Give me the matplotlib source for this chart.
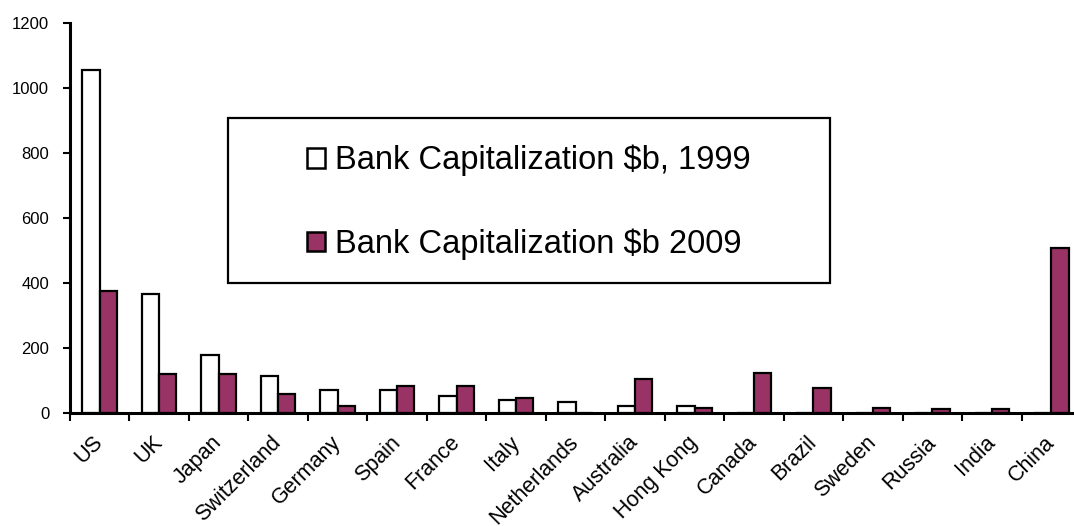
import matplotlib
matplotlib.use("Agg")
import matplotlib.pyplot as plt
from matplotlib.patches import Rectangle, Patch
import numpy as np

plt.rcParams['font.family'] = ['Liberation Sans', 'DejaVu Sans']

countries = ["US", "UK", "Japan", "Switzerland", "Germany", "Spain", "France", "Italy",
             "Netherlands", "Australia", "Hong Kong", "Canada", "Brazil", "Sweden",
             "Russia", "India", "China"]
cap_1999 = [1055, 365, 178, 113, 72, 70, 52, 40, 35, 22, 22, 0, 0, 0, 0, 0, 0]
cap_2009 = [376, 120, 120, 58, 22, 82, 82, 45, 0, 106, 16, 124, 77, 16, 11, 11, 507]
label_1999 = "Bank Capitalization $b, 1999"
label_2009 = "Bank Capitalization $b 2009"
y_ticks = [0, 200, 400, 600, 800, 1000, 1200]

W, H = 1074, 526
fig = plt.figure(figsize=(W / 100, H / 100), dpi=100)
ax = fig.add_axes([70 / W, 113 / H, (W - 70) / W, 390 / H])

x = np.arange(len(countries))
bw = 0.29
ax.bar(x - 0.145, cap_1999, bw, color="white", edgecolor="black", linewidth=1.6, zorder=3)
ax.bar(x + 0.145, cap_2009, bw, color="#993366", edgecolor="black", linewidth=1.6, zorder=3)

ax.set_xlim(-0.5, 16.38)
ax.set_ylim(0, 1200)
ax.set_yticks(y_ticks)
ax.set_yticklabels([str(v) for v in y_ticks], fontsize=12)
ax.tick_params(axis='y', length=5, width=1.5, pad=10)

ax.set_xticks(np.arange(-0.5, 16.5, 1.0))
ax.set_xticklabels([])
ax.tick_params(axis='x', which='major', length=6, width=1.5)
ax.set_xticks(x, minor=True)
ax.set_xticklabels(countries, minor=True, rotation=45, ha='right', va='center',
                   rotation_mode='anchor', fontsize=15.5)
ax.tick_params(axis='x', which='minor', length=0, pad=19)

for s in ['top', 'right']:
    ax.spines[s].set_visible(False)
for s in ['left', 'bottom']:
    ax.spines[s].set_linewidth(2.2)
    ax.spines[s].set_zorder(4)

# legend frame
fig.patches.append(Rectangle((228 / W, 1 - 283 / H), 602 / W, 165 / H,
                             transform=fig.transFigure, facecolor="white",
                             edgecolor="black", linewidth=1.6, zorder=5))
handles = [Patch(facecolor="white", edgecolor="black", linewidth=1.8),
           Patch(facecolor="#993366", edgecolor="black", linewidth=1.8)]
leg = fig.legend(handles, [label_1999, label_2009], loc='center',
                 bbox_to_anchor=((228 + 301) / W, 1 - (118 + 84.5) / H),
                 frameon=False, fontsize=23.5, handlelength=0.55, handleheight=0.55,
                 handletextpad=0.3, labelspacing=1.6)
leg.set_zorder(6)

fig.savefig("out.png", dpi=100)
